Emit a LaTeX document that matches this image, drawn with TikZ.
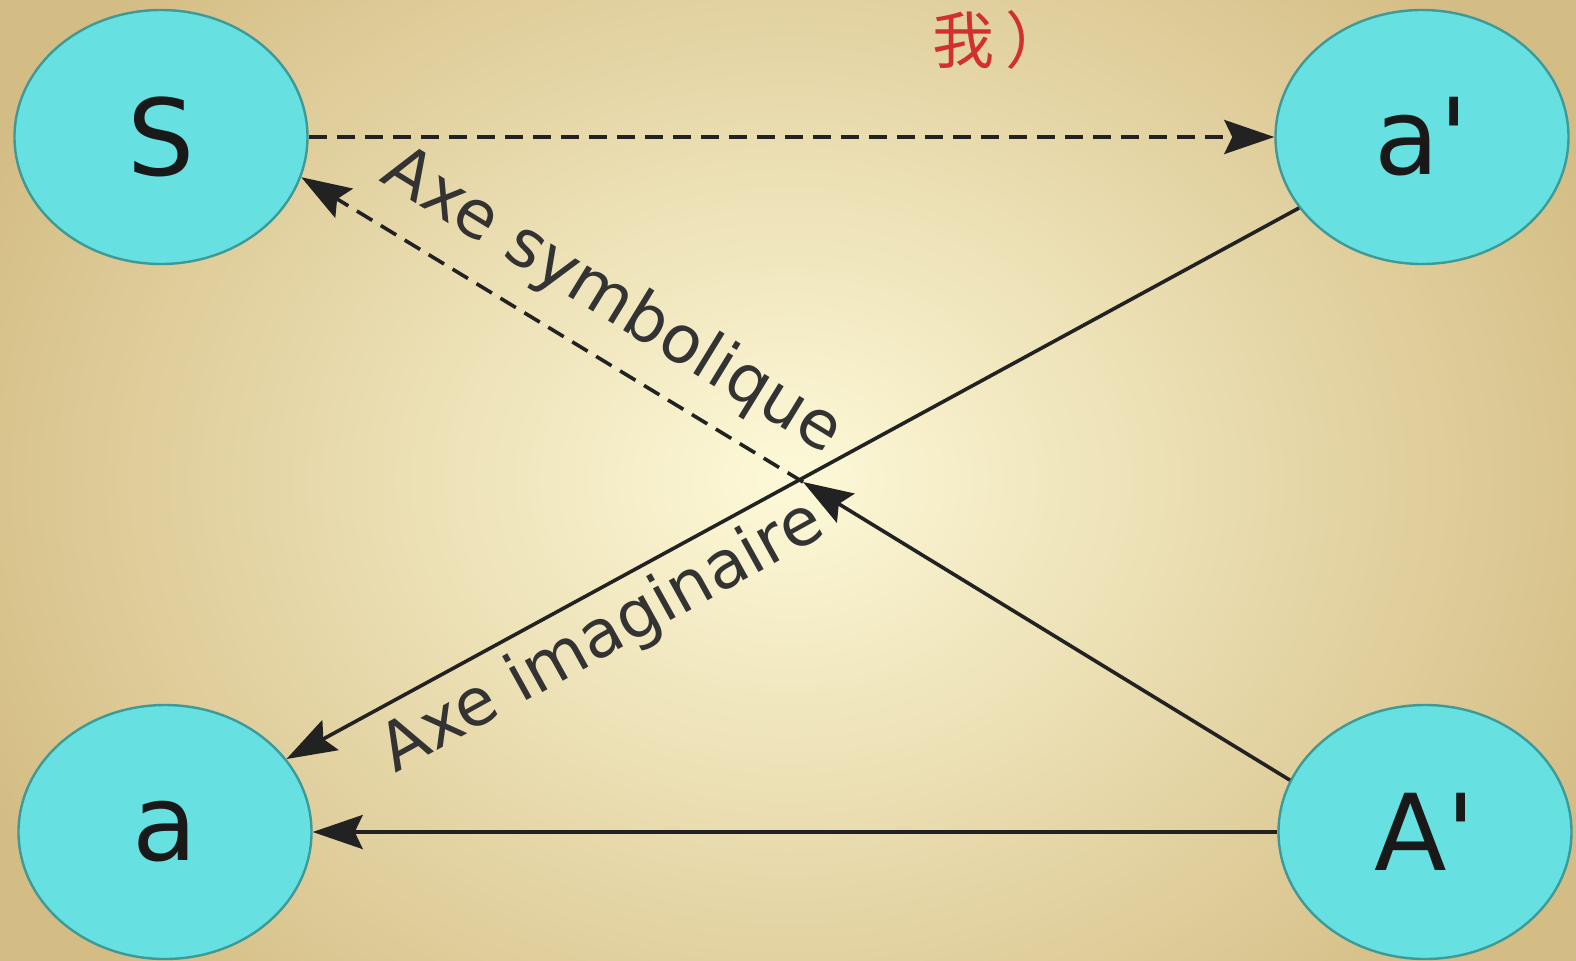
\documentclass[tikz,border=0pt]{standalone}
\usepackage{fontspec}
\setmainfont{DejaVu Sans}
\newfontfamily\cjk{Noto Sans CJK SC}
\usetikzlibrary{shapes.geometric,arrows.meta,shadings}
\definecolor{bgin}{HTML}{FDF9D8}
\definecolor{bgout}{HTML}{D4BD84}
\definecolor{nodefill}{HTML}{66E0E0}
\definecolor{nodeedge}{HTML}{3E9A96}
\definecolor{linec}{HTML}{222222}
\definecolor{labelc}{HTML}{333333}
\definecolor{redt}{HTML}{D03030}
\tikzset{
  circ/.style={ellipse, draw=nodeedge, line width=1.2pt, fill=nodefill, inner sep=0pt,
    minimum width=146.5pt, minimum height=127pt, font=\fontsize{53}{60}\selectfont, text=black!90},
  conn/.style={draw=linec, line width=1.8pt, -{Stealth[length=25pt,width=17pt,inset=4pt]}},
  dashconn/.style={conn, dash pattern=on 9pt off 5pt},
  axelabel/.style={font=\fontsize{33}{38}\selectfont, text=labelc, inner sep=0pt},
}
\begin{document}
\begin{tikzpicture}[x=0.5pt,y=-0.5pt]
\useasboundingbox (0,0) rectangle (1576,960);
\shade[inner color=bgin, outer color=bgout] (-100,-250) rectangle (1676,1210);
\node[circ] (S) at (161,137) {S};
\node[circ] (ap) at (1422,137) {a\textquotesingle};
\node[circ] (a) at (165,832) {a};
\node[circ] (Ap) at (1425,832) {A\textquotesingle};
\coordinate (X) at (803,482);
\node[font=\fontsize{31}{34}\selectfont\cjk, text=redt, inner sep=0pt] (wo) at (1000,40) {我\kern6pt）};
\draw[dashconn] (S.east) -- (ap.west);
\draw[conn] (ap.-150) -- (a.31);
\draw[conn] (Ap.west) -- (a.east);
\draw[conn] (Ap.159) -- (X);
\draw[dashconn] (X) -- (S.-16);
\node[axelabel, rotate=-31.5] (sym) at (612,302) {Axe symbolique};
\node[axelabel, rotate=29] (imag) at (603,638) {Axe imaginaire};
\end{tikzpicture}
\end{document}
